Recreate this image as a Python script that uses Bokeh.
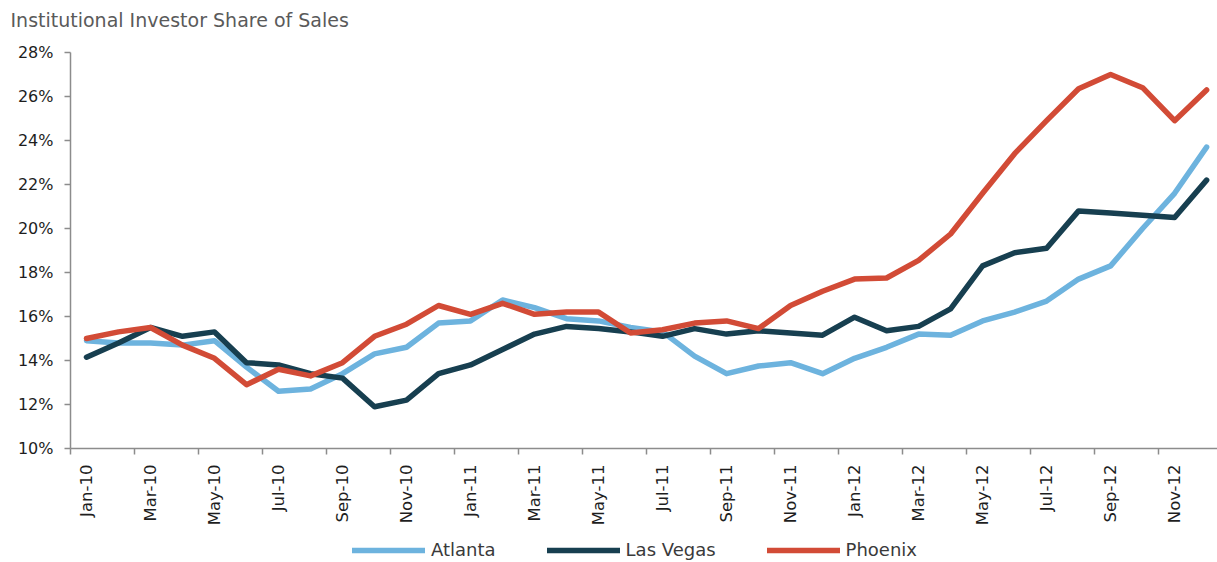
import math
from bokeh.plotting import figure
from bokeh.layouts import column
from bokeh.models import FixedTicker, Legend, LegendItem, Range1d
from bokeh.embed import file_html
from bokeh.resources import INLINE

months = [
    "Jan-10", "Feb-10", "Mar-10", "Apr-10", "May-10", "Jun-10", "Jul-10", "Aug-10", "Sep-10", "Oct-10", "Nov-10", "Dec-10",
    "Jan-11", "Feb-11", "Mar-11", "Apr-11", "May-11", "Jun-11", "Jul-11", "Aug-11", "Sep-11", "Oct-11", "Nov-11", "Dec-11",
    "Jan-12", "Feb-12", "Mar-12", "Apr-12", "May-12", "Jun-12", "Jul-12", "Aug-12", "Sep-12", "Oct-12", "Nov-12", "Dec-12",
]

atlanta = [
    14.9, 14.8, 14.8, 14.7, 14.9, 13.7, 12.6, 12.7, 13.4, 14.3, 14.6, 15.7,
    15.8, 16.75, 16.4, 15.9, 15.8, 15.5, 15.3, 14.2, 13.4, 13.75, 13.9, 13.4,
    14.1, 14.6, 15.2, 15.15, 15.8, 16.2, 16.7, 17.7, 18.3, 20.0, 21.6, 23.7,
]
las_vegas = [
    14.15, 14.8, 15.5, 15.1, 15.3, 13.9, 13.8, 13.4, 13.2, 11.9, 12.2, 13.4,
    13.8, 14.5, 15.2, 15.55, 15.45, 15.3, 15.1, 15.45, 15.2, 15.35, 15.25, 15.15,
    15.97, 15.35, 15.55, 16.35, 18.3, 18.9, 19.1, 20.8, 20.7, 20.6, 20.5, 22.2,
]
phoenix = [
    15.0, 15.3, 15.5, 14.7, 14.1, 12.9, 13.6, 13.3, 13.9, 15.1, 15.65, 16.5,
    16.1, 16.6, 16.1, 16.2, 16.2, 15.25, 15.4, 15.7, 15.8, 15.45, 16.5, 17.15,
    17.7, 17.75, 18.55, 19.75, 21.6, 23.4, 24.9, 26.35, 27.0, 26.4, 24.9, 26.3,
]

series_names = ["Atlanta", "Las Vegas", "Phoenix"]
series_colors = ["#6db3de", "#173f50", "#d24b36"]
series_values = [atlanta, las_vegas, phoenix]

y_ticks = [10, 12, 14, 16, 18, 20, 22, 24, 26, 28]
y_tick_labels = ["10%", "12%", "14%", "16%", "18%", "20%", "22%", "24%", "26%", "28%"]

title_text = "Institutional Investor Share of Sales"

x = list(range(len(months)))

# ---- title strip ----
p0 = figure(
    width=1217, height=40, output_backend="svg", toolbar_location=None,
    x_axis_location=None, y_axis_location=None, min_border=0,
    min_border_left=70, min_border_right=0,
    x_range=Range1d(0, 1), y_range=Range1d(0, 1),
    title=title_text,
)
p0.outline_line_color = None
p0.xgrid.grid_line_color = None
p0.ygrid.grid_line_color = None
p0.title.align = "left"
p0.title.offset = -60
p0.title.text_font = "DejaVu Sans"
p0.title.text_font_size = "19px"
p0.title.text_font_style = "normal"
p0.title.text_color = "#5a5a5a"
p0.title.standoff = 13

# ---- main chart ----
p = figure(
    width=1217, height=490,
    output_backend="svg", toolbar_location=None,
    x_range=Range1d(-0.5, 35.34), y_range=Range1d(10, 28),
    min_border_left=70, min_border_right=0, min_border_top=12, min_border_bottom=82,
)
p.outline_line_color = None
p.xgrid.grid_line_color = None
p.ygrid.grid_line_color = None

for vals, color in zip(series_values, series_colors):
    p.line(x, vals, line_color=color, line_width=5.5, line_join="round", line_cap="round")

axis_color = "#8c8c8c"

p.yaxis.ticker = FixedTicker(ticks=y_ticks)
p.yaxis.major_label_overrides = {t: l for t, l in zip(y_ticks, y_tick_labels)}
p.yaxis.major_tick_out = 6
p.yaxis.major_tick_in = 0
p.yaxis.minor_tick_line_color = None
p.yaxis.major_tick_line_color = axis_color
p.yaxis.axis_line_color = axis_color
p.yaxis.axis_line_width = 1.5
p.yaxis.major_tick_line_width = 1.5
p.yaxis.major_label_text_font = "DejaVu Sans"
p.yaxis.major_label_text_font_size = "16px"
p.yaxis.major_label_text_color = "#1e1e1e"
p.yaxis.major_label_standoff = 11

label_idx = list(range(0, len(months), 2))
p.xaxis.ticker = FixedTicker(ticks=label_idx, minor_ticks=[i - 0.5 for i in range(0, len(months) + 1, 2)])
p.xaxis.major_label_overrides = {i: months[i] for i in label_idx}
p.xaxis.major_tick_line_color = None
p.xaxis.major_tick_out = 0
p.xaxis.major_tick_in = 0
p.xaxis.minor_tick_out = 6
p.xaxis.minor_tick_in = 0
p.xaxis.minor_tick_line_color = axis_color
p.xaxis.minor_tick_line_width = 1.5
p.xaxis.axis_line_color = axis_color
p.xaxis.axis_line_width = 1.5
p.xaxis.major_label_orientation = math.pi / 2
p.xaxis.major_label_text_font = "DejaVu Sans"
p.xaxis.major_label_text_font_size = "16.5px"
p.xaxis.major_label_text_color = "#1e1e1e"
p.xaxis.major_label_standoff = 10

# ---- legend strip below the chart (series drawn out of view, only legend visible) ----
p2 = figure(
    width=1217, height=32, output_backend="svg", toolbar_location=None,
    x_axis_location=None, y_axis_location=None, min_border=0,
    x_range=Range1d(1000, 1001), y_range=Range1d(1000, 1001),
)
p2.outline_line_color = None
p2.xgrid.grid_line_color = None
p2.ygrid.grid_line_color = None
leg_renderers = []
for vals, color in zip(series_values, series_colors):
    leg_renderers.append(p2.line(x, vals, line_color=color, line_width=5.5, line_cap="round"))

legend = Legend(
    items=[LegendItem(label=n, renderers=[r]) for n, r in zip(series_names, leg_renderers)],
    orientation="horizontal",
    location=(282, 2),
    glyph_width=73, glyph_height=20,
    label_standoff=6, spacing=51, padding=0, margin=0,
    border_line_color=None, background_fill_alpha=0,
    label_text_font="DejaVu Sans", label_text_font_size="18px", label_text_color="#3a3a3a",
)
p2.add_layout(legend, "center")

layout = column(p0, p, p2, spacing=0)
open("out.html", "w").write(file_html(layout, INLINE))
